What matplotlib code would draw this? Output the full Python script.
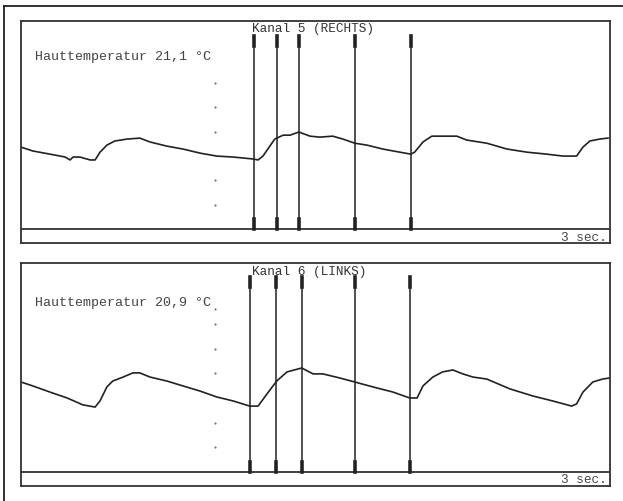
import matplotlib.pyplot as plt
from matplotlib.lines import Line2D

# time in seconds, amplitude in scale divisions
t_rechts = [0.00, 0.24, 0.59, 0.90, 1.00, 1.06, 1.20, 1.41, 1.51, 1.61, 1.75, 1.91, 2.16, 2.42,
            2.63, 2.97, 3.30, 3.65, 3.99, 4.32, 4.73, 4.83, 4.93, 5.07, 5.17, 5.34, 5.48, 5.66,
            5.89, 6.09, 6.35, 6.56, 6.80, 7.05, 7.37, 7.72, 7.94, 8.02, 8.19, 8.37, 8.59, 8.88,
            9.08, 9.49, 9.90, 10.31, 10.71, 11.04, 11.32, 11.45, 11.59, 11.79, 11.96]
v_rechts = [0.37, 0.21, 0.08, -0.04, -0.16, -0.04, -0.04, -0.16, -0.16, 0.16, 0.45, 0.62, 0.70, 0.74,
            0.58, 0.41, 0.29, 0.12, 0.00, -0.04, -0.12, -0.16, 0.00, 0.41, 0.70, 0.86, 0.86, 0.99,
            0.82, 0.78, 0.82, 0.70, 0.53, 0.45, 0.29, 0.16, 0.08, 0.16, 0.58, 0.82, 0.82, 0.82,
            0.66, 0.53, 0.29, 0.16, 0.08, 0.00, 0.00, 0.37, 0.62, 0.70, 0.74]

t_links = [0.00, 0.24, 0.59, 0.94, 1.26, 1.51, 1.61, 1.75, 1.87, 2.08, 2.28, 2.42, 2.63, 2.97,
           3.30, 3.65, 3.99, 4.32, 4.66, 4.83, 5.01, 5.21, 5.42, 5.72, 5.95, 6.15, 6.50, 6.80,
           7.17, 7.58, 7.92, 8.07, 8.19, 8.39, 8.59, 8.80, 9.00, 9.21, 9.49, 9.96, 10.43, 10.83,
           11.22, 11.32, 11.45, 11.65, 11.85, 11.98]
v_links = [0.65, 0.49, 0.24, 0.00, -0.28, -0.37, -0.12, 0.45, 0.69, 0.85, 1.02, 1.02, 0.85, 0.69,
           0.49, 0.28, 0.04, -0.12, -0.33, -0.33, 0.16, 0.69, 1.06, 1.22, 0.98, 0.98, 0.81, 0.65,
           0.45, 0.24, 0.00, 0.00, 0.49, 0.85, 1.06, 1.14, 0.98, 0.85, 0.77, 0.37, 0.08, -0.12,
           -0.33, -0.24, 0.24, 0.65, 0.77, 0.81]

marks_rechts = [4.75, 5.21, 5.66, 6.80, 7.94]
marks_links = [4.66, 5.19, 5.72, 6.80, 7.92]

dots_rechts = [3, 2, 1, -1, -2]
dots_links = [3.6, 3, 2, 1, -1, -2]

titles = ['Kanal 5 (RECHTS)', 'Kanal 6 (LINKS)']
temps = ['Hauttemperatur 21,1 °C', 'Hauttemperatur 20,9 °C']

mono = 'Liberation Mono'
ink = '#222222'

fig = plt.figure(figsize=(6.23, 5.02), dpi=100)

# outer frame (only left and top edges visible)
fig.add_artist(Line2D([4/623, 4/623], [0, 1 - 7/502], color=ink, lw=1.3))
fig.add_artist(Line2D([4/623, 1], [1 - 7/502, 1 - 7/502], color=ink, lw=1.3))

panels = [
    ([0.0337, 0.5139, 0.9454, 0.4422], (-3.58, 5.56), t_rechts, v_rechts, marks_rechts, dots_rechts, 4.12, -3.33),
    ([0.0337, 0.0299, 0.9454, 0.4442], (-3.58, 5.49), t_links, v_links, marks_links, dots_links, 3.90, -3.29),
]

for i, (pos, ylim, t, v, marks, dots, ytemp, ysec) in enumerate(panels):
    ax = fig.add_axes(pos)
    ax.set_xlim(0, 12.0)
    ax.set_ylim(*ylim)
    ax.set_xticks([])
    ax.set_yticks([])
    for s in ax.spines.values():
        s.set_color('#333333')
        s.set_linewidth(1.3)

    # strip line for the time scale
    ax.axhline(-3.0, color='#333333', lw=1.3)

    # trace
    ax.plot(t, v, color=ink, lw=1.2)

    # event markers
    for m in marks:
        ax.plot([m, m], [-3.0, 4.93], color=ink, lw=1.1)
        ax.plot([m, m], [4.52, 4.93], color=ink, lw=2.6)
        ax.plot([m, m], [-3.0, -2.6], color=ink, lw=2.6)

    # scale dots
    ax.plot([3.95] * len(dots), dots, ls='none', marker='o', ms=1.6, color='#777777', mec='none')

    ax.text(4.70, 5.27 if i == 0 else 5.18, titles[i], family=mono, fontsize=9.2,
            color='#333333', ha='left', va='center')
    ax.text(0.29, ytemp, temps[i], family=mono, fontsize=9.6, color='#444444',
            ha='left', va='center')
    ax.text(11.94, ysec, '3 sec.', family=mono, fontsize=9.2, color='#444444',
            ha='right', va='center')

fig.savefig('out.png', dpi=100)
